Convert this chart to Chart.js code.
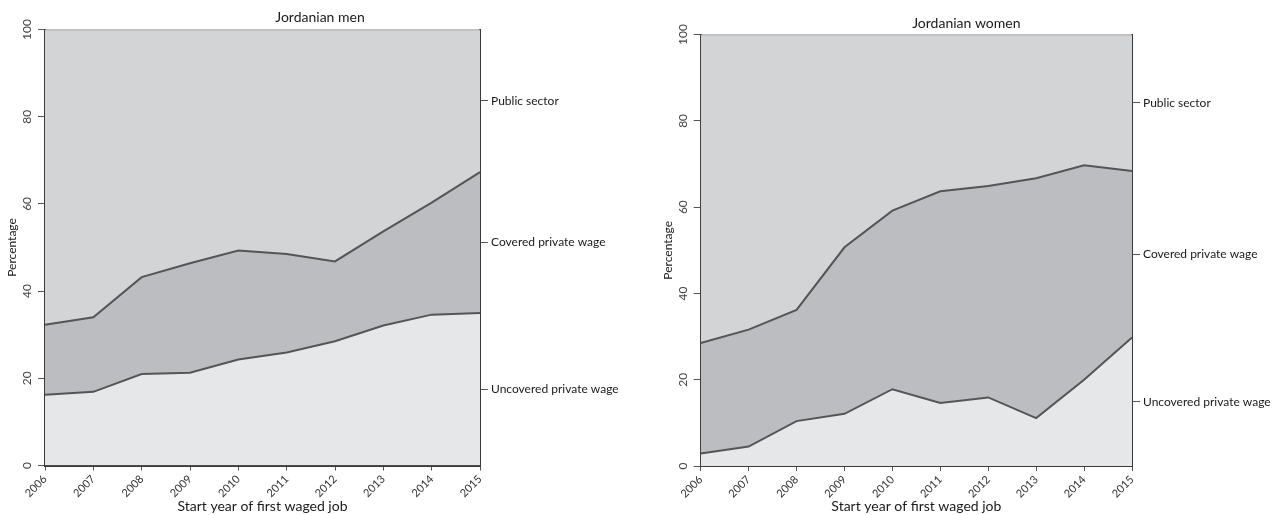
<!DOCTYPE html>
<html><head><meta charset="utf-8">
<script src="https://cdn.jsdelivr.net/npm/chart.js@4.4.1/dist/chart.umd.min.js"></script>
<style>
html,body{margin:0;padding:0;background:#fff;}
#wrap{position:relative;width:1277px;height:515px;overflow:hidden;}
.panel{position:absolute;top:0;height:515px;}
canvas{display:block;}
</style></head><body>
<div id="wrap">
<div class="panel" style="left:0;width:640px"><canvas id="men" width="640" height="515"></canvas></div>
<div class="panel" style="left:640px;width:637px"><canvas id="women" width="637" height="515"></canvas></div>
</div>
<script>
// ---- data ----
const years = ['2006','2007','2008','2009','2010','2011','2012','2013','2014','2015'];
const bandNames = ['Uncovered private wage','Covered private wage','Public sector'];
const panelTitles = ['Jordanian men','Jordanian women'];
const xTitle = 'Start year of first waged job';
const yTitle = 'Percentage';

const menUncovered = [16.2, 16.9, 21.0, 21.3, 24.3, 25.9, 28.5, 32.1, 34.6, 35.0];
const menCovered   = [16.1, 17.1, 22.2, 25.1, 25.0, 22.6, 18.3, 21.6, 25.7, 32.3];
const menPublic    = [67.7, 66.0, 56.8, 53.6, 50.7, 51.5, 53.2, 46.3, 39.7, 32.7];

const womenUncovered = [2.9, 4.5, 10.4, 12.1, 17.8, 14.6, 15.9, 11.1, 20.0, 29.8];
const womenCovered   = [25.6, 27.1, 25.8, 38.6, 41.4, 49.1, 49.0, 55.6, 49.7, 38.6];
const womenPublic    = [71.5, 68.4, 63.8, 49.3, 40.8, 36.3, 35.1, 33.3, 30.3, 31.6];

// ---- styles ----
const FONT = 'Lato, "Open Sans", sans-serif';
const COL_UNC = '#e6e7e8';
const COL_COV = '#bcbdc0';
const COL_PUB = '#d3d4d6';
const LINE = '#555555';
const AXIS = '#3a3a3a';

function makePanel(id, titleText, unc, cov, pub, g) {
  const n = unc.length - 1;
  const mids = [unc[n] / 2, unc[n] + cov[n] / 2, unc[n] + cov[n] + pub[n] / 2];
  new Chart(document.getElementById(id), {
    type: 'line',
    data: {
      labels: years,
      datasets: [
        {label: bandNames[0], data: unc, fill: 'origin', backgroundColor: COL_UNC, borderColor: LINE, borderWidth: 2},
        {label: bandNames[1], data: cov, fill: '-1', backgroundColor: COL_COV, borderColor: LINE, borderWidth: 2},
        {label: bandNames[2], data: pub, fill: '-1', backgroundColor: COL_PUB, borderColor: '#8a8a8a', borderWidth: 1.5}
      ]
    },
    options: {
      responsive: false, animation: false, devicePixelRatio: 1,
      events: [],
      layout: {padding: {left: g.padLeft, top: g.padTop, right: 0, bottom: 0}},
      elements: {point: {radius: 0, hoverRadius: 0}, line: {tension: 0}},
      plugins: {
        legend: {display: false},
        tooltip: {enabled: false},
        title: {display: true, text: titleText, color: '#1a1a1a', font: {family: FONT, size: 14, weight: 'normal'},
                padding: {top: g.titleTop, bottom: g.titleBottom}}
      },
      scales: {
        x: {
          type: 'category', offset: false,
          grid: {drawOnChartArea: false, drawTicks: true, tickLength: 5, color: '#555'},
          border: {display: true, color: AXIS, width: 2},
          ticks: {autoSkip: false, minRotation: 45, maxRotation: 45, padding: 2, color: '#333', font: {family: FONT, size: 11}},
          title: {display: true, text: xTitle, color: '#1a1a1a', font: {family: FONT, size: 14}, padding: {top: 0, bottom: 0}},
          afterFit: s => { s.height = g.xH; }
        },
        y: {
          stacked: true, min: 0, max: 100, position: 'left',
          ticks: {stepSize: 20, minRotation: 90, maxRotation: 90, crossAlign: 'center', padding: 0, color: '#444', font: {family: FONT, size: 12}},
          grid: {drawOnChartArea: false, tickLength: 7, color: '#555'},
          border: {color: AXIS, width: 2},
          title: {display: true, text: yTitle, color: '#1a1a1a', font: {family: FONT, size: 12}, padding: {top: 5.3, bottom: 0}},
          afterFit: s => { s.width = 45; }
        },
        y2: {
          min: 0, max: 100, position: 'right',
          afterBuildTicks: s => { s.ticks = mids.map(v => ({value: v})); },
          ticks: {callback: (v, i) => bandNames[i], color: '#1a1a1a', padding: 3, font: {family: FONT, size: 12}},
          grid: {drawOnChartArea: false, tickLength: 8, color: '#555'},
          border: {color: AXIS, width: 2},
          afterFit: s => { s.width = g.rightW; }
        }
      }
    }
  });
}

makePanel('men', panelTitles[0], menUncovered, menCovered, menPublic,
  {padLeft: 0, padTop: 0, titleTop: 8.6, titleBottom: 4.1, xH: 49.5, rightW: 160});
makePanel('women', panelTitles[1], womenUncovered, womenCovered, womenPublic,
  {padLeft: 15.7, padTop: 5, titleTop: 9.6, titleBottom: 3.2, xH: 49, rightW: 145});
</script>
</body></html>
